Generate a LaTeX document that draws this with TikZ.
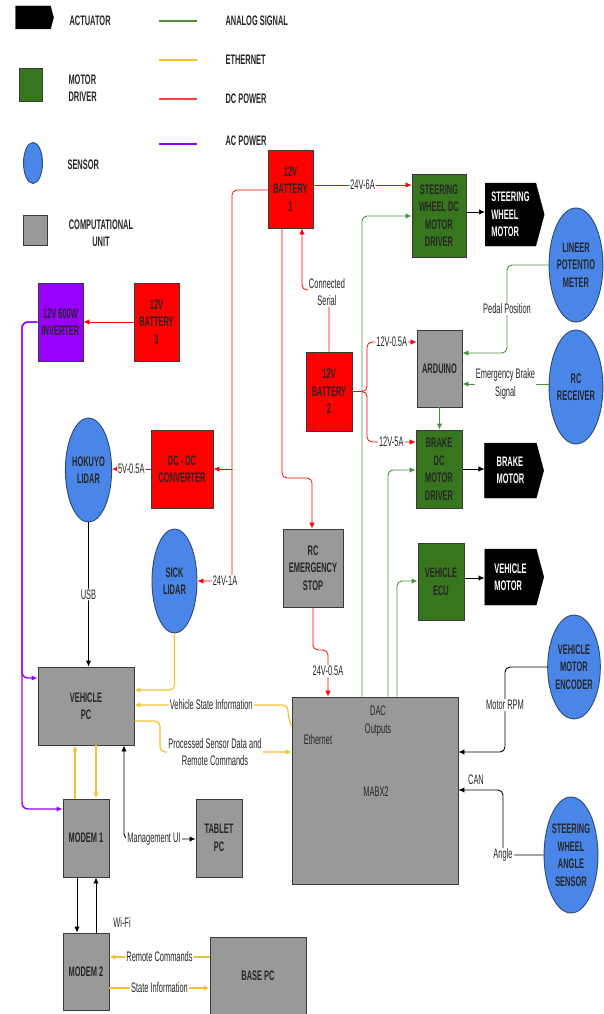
\documentclass[tikz,border=0pt]{standalone}
\usepackage{fontspec}
\setmainfont{Liberation Sans}[FakeStretch=0.54]
\usetikzlibrary{arrows.meta,shapes.geometric,shapes.symbols,calc}
\definecolor{cred}{HTML}{FF0000}
\definecolor{cgreen}{HTML}{38761D}
\definecolor{cblue}{HTML}{4A86E8}
\definecolor{cgray}{HTML}{999999}
\definecolor{cpurple}{HTML}{9900FF}
\definecolor{lgreen}{HTML}{4E8F3A}
\definecolor{cyellow}{HTML}{F1C232}
\definecolor{sborder}{HTML}{2B4A7A}
\definecolor{bborder}{HTML}{3A3A3A}
\begin{document}
\begin{tikzpicture}[x=1pt,y=-1pt,
  >={Latex[length=6pt,width=5.5pt]},
  txt/.style={font=\fontsize{13.8}{17.5}\selectfont, text=black!85},
  btxt/.style={font=\bfseries\fontsize{13.8}{17.5}\selectfont, text=black!85},
  box/.style={btxt, draw=bborder, line width=0.9pt, inner sep=1pt, align=center},
  redbox/.style={box, fill=cred},
  greenbox/.style={box, fill=cgreen},
  graybox/.style={box, fill=cgray},
  purplebox/.style={box, fill=cpurple},
  sensor/.style={btxt, ellipse, draw=sborder, line width=0.9pt, fill=cblue, inner sep=0pt, align=center},
  actuator/.style={shape=signal, signal to=east, signal from=nowhere, signal pointer angle=150,
     fill=black, draw=black, text=white, font=\bfseries\fontsize{13.8}{17.5}\selectfont, align=left, inner sep=1pt},
  lbl/.style={txt, fill=white, inner sep=1pt, align=center},
  red/.style={draw=cred, line width=0.8pt, rounded corners=5pt},
  grn/.style={draw=lgreen, line width=0.9pt, rounded corners=5pt},
  eth/.style={draw=cyellow, line width=1.2pt, rounded corners=5pt},
  ac/.style={draw=cpurple, line width=1.4pt, rounded corners=6pt},
  blk/.style={draw=black, line width=0.9pt, rounded corners=5pt},
  legline/.style={line width=1.8pt}
]
\useasboundingbox (0,0) rectangle (603,1014);

% ---------- legend ----------
\node[actuator, minimum width=38, minimum height=23] (la) at (33,17.5) {};
\node[btxt, anchor=west] (lat) at (66,21) {ACTUATOR};
\node[greenbox, minimum width=23, minimum height=33] (lm) at (30.5,84.5) {};
\node[btxt, anchor=west, align=left] (lmt) at (65,88) {MOTOR\\DRIVER};
\node[sensor, minimum width=19, minimum height=41] (ls) at (33,163) {};
\node[btxt, anchor=west] (lst) at (64,165) {SENSOR};
\node[graybox, minimum width=24, minimum height=30] (lc) at (35,230) {};
\node[btxt, align=center] (lct) at (101,233) {COMPUTATIONAL\\UNIT};
\coordinate (l1a) at (159,21);  \coordinate (l1b) at (197,21);
\coordinate (l2a) at (159,60);  \coordinate (l2b) at (197,60);
\coordinate (l3a) at (159,99);  \coordinate (l3b) at (197,99);
\coordinate (l4a) at (159,144); \coordinate (l4b) at (197,144);
\draw[grn, legline] (l1a) -- (l1b);
\draw[eth, legline] (l2a) -- (l2b);
\draw[red, legline, draw=red!75] (l3a) -- (l3b);
\draw[ac, legline] (l4a) -- (l4b);
\node[btxt, anchor=west] (lt1) at (222,21) {ANALOG SIGNAL};
\node[btxt, anchor=west] (lt2) at (222,60) {ETHERNET};
\node[btxt, anchor=west] (lt3) at (222,99) {DC POWER};
\node[btxt, anchor=west] (lt4) at (222,141) {AC POWER};

% ---------- nodes ----------
\node[redbox, minimum width=45, minimum height=78] (bat1) at (290.5,189) {12V\\BATTERY\\1};
\node[greenbox, minimum width=54, minimum height=83] (swd) at (439,215.5) {STEERING\\WHEEL DC\\MOTOR\\DRIVER};
\node[actuator, minimum width=59, minimum height=63] (swm) at (510.5,214.5) {STEERING\\WHEEL\\MOTOR};
\node[sensor, minimum width=48, minimum height=114] (pot) at (576,265) {LINEER\\POTENTIO\\METER};
\node[graybox, minimum width=45, minimum height=77] (ard) at (439.5,368.5) {ARDUINO};
\node[sensor, minimum width=51, minimum height=114] (rcr) at (576,387) {RC\\RECEIVER};
\node[redbox, minimum width=46, minimum height=79] (bat2) at (329,391.5) {12V\\BATTERY\\2};
\node[greenbox, minimum width=46, minimum height=78] (brk) at (439,469) {BRAKE\\DC\\MOTOR\\DRIVER};
\node[actuator, minimum width=59, minimum height=55] (bm) at (510.5,470.5) {BRAKE\\MOTOR};
\node[redbox, minimum width=62, minimum height=78] (dcdc) at (182,469) {DC - DC\\CONVERTER};
\node[sensor, minimum width=43, minimum height=104] (hok) at (88.5,470) {HOKUYO\\LIDAR};
\node[redbox, minimum width=45, minimum height=78] (bat3) at (156.5,322) {12V\\BATTERY\\3};
\node[purplebox, minimum width=45, minimum height=78] (inv) at (60.5,322) {12V 600W\\INVERTER};
\node[sensor, minimum width=45, minimum height=104] (sick) at (174.5,581) {SICK\\LIDAR};
\node[graybox, minimum width=96, minimum height=78] (vpc) at (86,706) {VEHICLE\\PC};
\node[graybox, minimum width=60, minimum height=78] (estop) at (313,568) {RC\\EMERGENCY\\STOP};
\node[greenbox, minimum width=46, minimum height=77] (ecu) at (441,581.5) {VEHICLE\\ECU};
\node[actuator, minimum width=59, minimum height=56] (vm) at (510.5,577) {VEHICLE\\MOTOR};
\node[sensor, minimum width=44, minimum height=104] (enc) at (574,667) {VEHICLE\\MOTOR\\ENCODER};
\node[graybox, minimum width=166, minimum height=187] (mabx) at (375,790.5) {};
\node[txt, align=center] (dac) at (378,721) {DAC\\Outputs};
\node[txt] (ethl) at (318,740) {Ethernet};
\node[txt] (mabxl) at (376,792) {MABX2};
\node[sensor, minimum width=46, minimum height=116] (ang) at (571,855) {STEERING\\WHEEL\\ANGLE\\SENSOR};
\node[graybox, minimum width=46, minimum height=78] (tab) at (219,838) {TABLET\\PC};
\node[graybox, minimum width=46, minimum height=78] (m1) at (86,838) {MODEM 1};
\node[graybox, minimum width=46, minimum height=77] (m2) at (86,971.5) {MODEM 2};
\node[graybox, minimum width=96, minimum height=78] (base) at (258,976) {BASE PC};

% ---------- DC power ----------
\draw[red,->] (bat1.east |- 0,185) -- node[lbl]{24V-6A} (swd.west |- 0,185);
\draw[red,->] (bat1.west |- 0,190) -| (232,581) -- (sick.east |- 0,581);
\node[lbl] (l24) at (225,581) {24V-1A};
\coordinate (jdc) at (232,469);
\draw[red,->] (jdc) -- (dcdc.east |- jdc);
\draw[red,->] (dcdc.west) -- node[lbl]{5V-0.5A} (hok.east |- dcdc.west);
\draw[red,->] (bat3.west) -- (inv.east);
\draw[red,->] (bat1.south -| 282,0) -- (282,478) -- (312,478) -- (estop.north -| 312,0);
\draw[red,->] (bat2.north -| 329,0) -- (329,290) -- (302,290) -- (bat1.south -| 302,0);
\node[lbl] (lser) at (327,292) {Connected\\Serial};
\draw[red,->] (bat2.east) -- (367,391.5) -- (367,342) -- node[lbl]{12V-0.5A} (ard.west |- 0,342);
\draw[red,->] (bat2.east) -- (367,391.5) -- (367,442) -- node[lbl]{12V-5A} (brk.west |- 0,442);
\draw[red,->] (estop.south) -- (313,650) -- (328,650) -- (mabx.north -| 328,0);
\node[lbl] (l05) at (328,671) {24V-0.5A};

% ---------- analog ----------
\draw[grn,->] (mabx.north -| 362,0) |- (swd.west |- 0,216);
\draw[grn,->] (mabx.north -| 388,0) |- (brk.west |- 0,470);
\draw[grn,->] (mabx.north -| 397,0) |- (ecu.west |- 0,581);
\draw[grn,->] (pot.west) -| (507,353) -- (ard.east |- 0,353);
\node[lbl] (lped) at (507,309) {Pedal Position};
\draw[grn,->] (rcr.west |- 0,384) -- node[lbl]{Emergency Brake\\Signal} (ard.east |- 0,384);
\draw[grn,->] (ard.south) -- (brk.north -| ard.south);

% ---------- black ----------
\draw[blk,->] (swd.east |- 0,212) -- (swm.west |- 0,212);
\draw[blk,->] (brk.east) -- (bm.west |- brk.east);
\draw[blk,->] (ecu.east |- 0,578) -- (vm.west |- 0,578);
\draw[blk,->] (hok.south) -- node[lbl]{USB} (vpc.north -| hok.south);
\draw[blk,->] (enc.west) -| (505,752) -- (mabx.east |- 0,752);
\node[lbl] (lrpm) at (505,705) {Motor RPM};
\draw[blk,->] (ang.west) -| (503,790) -- (mabx.east |- 0,790);
\node[lbl] (lang) at (503,855) {Angle};
\node[txt] (lcan) at (476,780) {CAN};
\draw[blk,<->] (vpc.south -| 124,0) |- (tab.west |- 0,839);
\node[lbl] (lmui) at (154,839) {Management UI};
\draw[blk,->] (m1.south -| 77,0) -- (m2.north -| 77,0);
\draw[blk,->] (m2.north -| 96,0) -- (m1.south -| 96,0);
\node[txt] (lwifi) at (122,922) {Wi-Fi};

% ---------- ethernet ----------
\draw[eth,->] (sick.south) |- (vpc.east |- 0,690);
\draw[eth,->] (mabx.west |- 0,726) -- (288,716) -- (288,705) -- node[lbl, pos=0.5]{Vehicle State Information} (vpc.east |- 0,705);
\draw[eth,->] (vpc.east |- 0,721) -| (160,752) -- (mabx.west |- 0,752);
\node[lbl] (lpsd) at (215,752) {Processed Sensor Data and\\Remote Commands};
\draw[eth,->] (m1.north -| 75,0) -- (vpc.south -| 75,0);
\draw[eth,->] (vpc.south -| 96,0) -- (m1.north -| 96,0);
\draw[eth,->] (base.west |- 0,957) -- node[lbl]{Remote Commands} (m2.east |- 0,957);
\draw[eth,->] (m2.east |- 0,988) -- node[lbl]{State Information} (base.west |- 0,988);

% ---------- AC ----------
\draw[ac,->] (inv.west) -| (22,678) -- (vpc.west |- 0,678);
\draw[ac,->] (inv.west) -| (22,809) -- (m1.west |- 0,809);
\end{tikzpicture}
\end{document}
